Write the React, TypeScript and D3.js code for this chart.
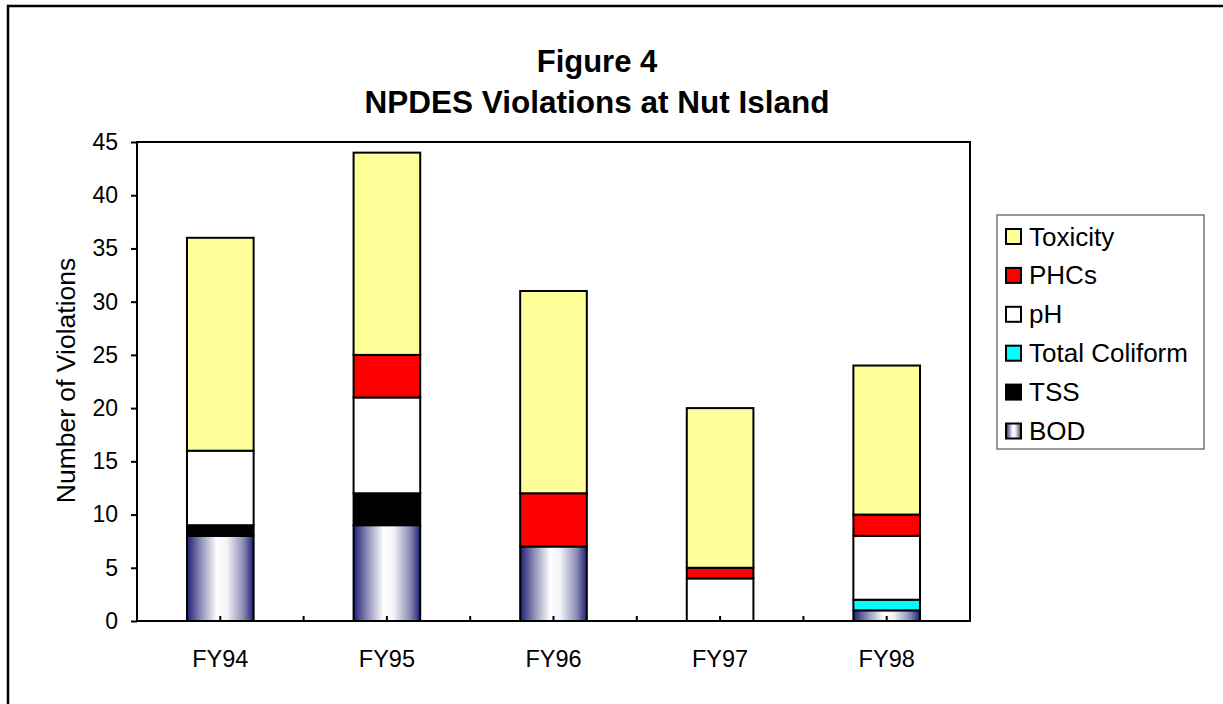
import { useEffect, useRef } from "react";
import * as d3 from "d3";

const years = ["FY94", "FY95", "FY96", "FY97", "FY98"];
const series = ["BOD", "TSS", "Total Coliform", "pH", "PHCs", "Toxicity"];
const bod = [8, 9, 7, 0, 1];
const tss = [1, 3, 0, 0, 0];
const coliform = [0, 0, 0, 0, 1];
const ph = [7, 9, 0, 4, 6];
const phcs = [0, 4, 5, 1, 2];
const toxicity = [20, 19, 19, 15, 14];
const yTicks = [0, 5, 10, 15, 20, 25, 30, 35, 40, 45];
const legendOrder = ["Toxicity", "PHCs", "pH", "Total Coliform", "TSS", "BOD"];

const fills: Record<string, string> = {
  BOD: "url(#bodGrad)",
  TSS: "#000000",
  "Total Coliform": "#00ffff",
  pH: "#ffffff",
  PHCs: "#ff0000",
  Toxicity: "#ffff99",
};

export default function App() {
  const ref = useRef<SVGSVGElement>(null);

  useEffect(() => {
    const svg = d3.select(ref.current);
    svg.selectAll("*").remove();

    const font = "Arial, 'Liberation Sans', sans-serif";
    const left = 137, right = 970, top = 142, bottom = 621;

    const defs = svg.append("defs");
    const g = defs.append("linearGradient").attr("id", "bodGrad").attr("x1", "0%").attr("x2", "100%").attr("y1", "0%").attr("y2", "0%");
    [[0, "#1e1e78"], [0.2, "#8a8ab4"], [0.45, "#ffffff"], [0.6, "#f4f4f8"], [0.85, "#8a8ab4"], [1, "#1e1e78"]].forEach(([o, c]) =>
      g.append("stop").attr("offset", o as number).attr("stop-color", c as string)
    );

    // outer frame
    svg.append("rect").attr("x", 8).attr("y", 6).attr("width", 1400).attr("height", 900)
      .attr("fill", "white").attr("stroke", "black").attr("stroke-width", 2.5);

    // title
    svg.append("text").attr("x", 597).attr("y", 72).attr("text-anchor", "middle")
      .attr("font-family", font).attr("font-weight", "bold").attr("font-size", 31).text("Figure 4");
    svg.append("text").attr("x", 597).attr("y", 113).attr("text-anchor", "middle")
      .attr("font-family", font).attr("font-weight", "bold").attr("font-size", 31.5).text("NPDES Violations at Nut Island");

    const x = d3.scaleBand().domain(years).range([left, right]);
    const y = d3.scaleLinear().domain([0, 45]).range([bottom, top]);

    const table = years.map((yr, i) => ({
      year: yr,
      BOD: bod[i],
      TSS: tss[i],
      "Total Coliform": coliform[i],
      pH: ph[i],
      PHCs: phcs[i],
      Toxicity: toxicity[i],
    }));
    const stacked = d3.stack<any>().keys(series)(table);

    svg.append("rect").attr("x", left).attr("y", top).attr("width", right - left).attr("height", bottom - top)
      .attr("fill", "white");

    const barW = x.bandwidth() * 0.4;
    const layers = svg.append("g");
    stacked.forEach((layer) => {
      layers.selectAll(null)
        .data(layer.filter((d) => d[1] - d[0] > 0))
        .enter()
        .append("rect")
        .attr("x", (d) => x(d.data.year)! + (x.bandwidth() - barW) / 2)
        .attr("y", (d) => y(d[1]))
        .attr("width", barW)
        .attr("height", (d) => y(d[0]) - y(d[1]))
        .attr("fill", fills[layer.key])
        .attr("stroke", "black")
        .attr("stroke-width", 2);
    });

    // plot border
    svg.append("rect").attr("x", left).attr("y", top).attr("width", right - left).attr("height", bottom - top)
      .attr("fill", "none").attr("stroke", "black").attr("stroke-width", 2);

    // y axis
    const yAxis = svg.append("g").attr("transform", `translate(${left},0)`)
      .call(d3.axisLeft(y).tickValues(yTicks).tickSize(6).tickPadding(13));
    yAxis.select(".domain").remove();
    yAxis.selectAll("line").attr("stroke-width", 2);
    yAxis.selectAll("text").attr("font-family", font).attr("font-size", 23).attr("fill", "black");

    // x axis: ticks at boundaries and centres pointing inward
    const halfTicks: number[] = [];
    years.forEach((yr, i) => {
      if (i > 0) halfTicks.push(x(yr)!);
      halfTicks.push(x(yr)! + x.bandwidth() / 2);
    });
    svg.append("g").selectAll("line").data(halfTicks).enter().append("line")
      .attr("x1", (d) => d).attr("x2", (d) => d).attr("y1", bottom).attr("y2", bottom - 5)
      .attr("stroke", "black").attr("stroke-width", 2);
    svg.append("g").selectAll("text").data(years).enter().append("text")
      .attr("x", (d) => x(d)! + x.bandwidth() / 2).attr("y", 667).attr("text-anchor", "middle")
      .attr("font-family", font).attr("font-size", 23.5).text((d) => d);

    // y label
    svg.append("text").attr("transform", `translate(75,${(top + bottom) / 2 - 1}) rotate(-90)`)
      .attr("text-anchor", "middle").attr("font-family", font).attr("font-size", 26.5).text("Number of Violations");

    // legend
    const lg = svg.append("g");
    lg.append("rect").attr("x", 997).attr("y", 215).attr("width", 207).attr("height", 234)
      .attr("fill", "white").attr("stroke", "#555").attr("stroke-width", 1.2);
    legendOrder.forEach((k, i) => {
      const cy = 236 + i * 38.9;
      lg.append("rect").attr("x", 1006).attr("y", cy - 7).attr("width", 15).attr("height", 15)
        .attr("fill", fills[k]).attr("stroke", "black").attr("stroke-width", 2);
      lg.append("text").attr("x", 1029).attr("y", cy + 9.5).attr("font-family", font).attr("font-size", 26).text(k);
    });
  }, []);

  return (
    <svg ref={ref} width={1223} height={704} style={{ position: "absolute", left: 0, top: 0 }}></svg>
  );
}
